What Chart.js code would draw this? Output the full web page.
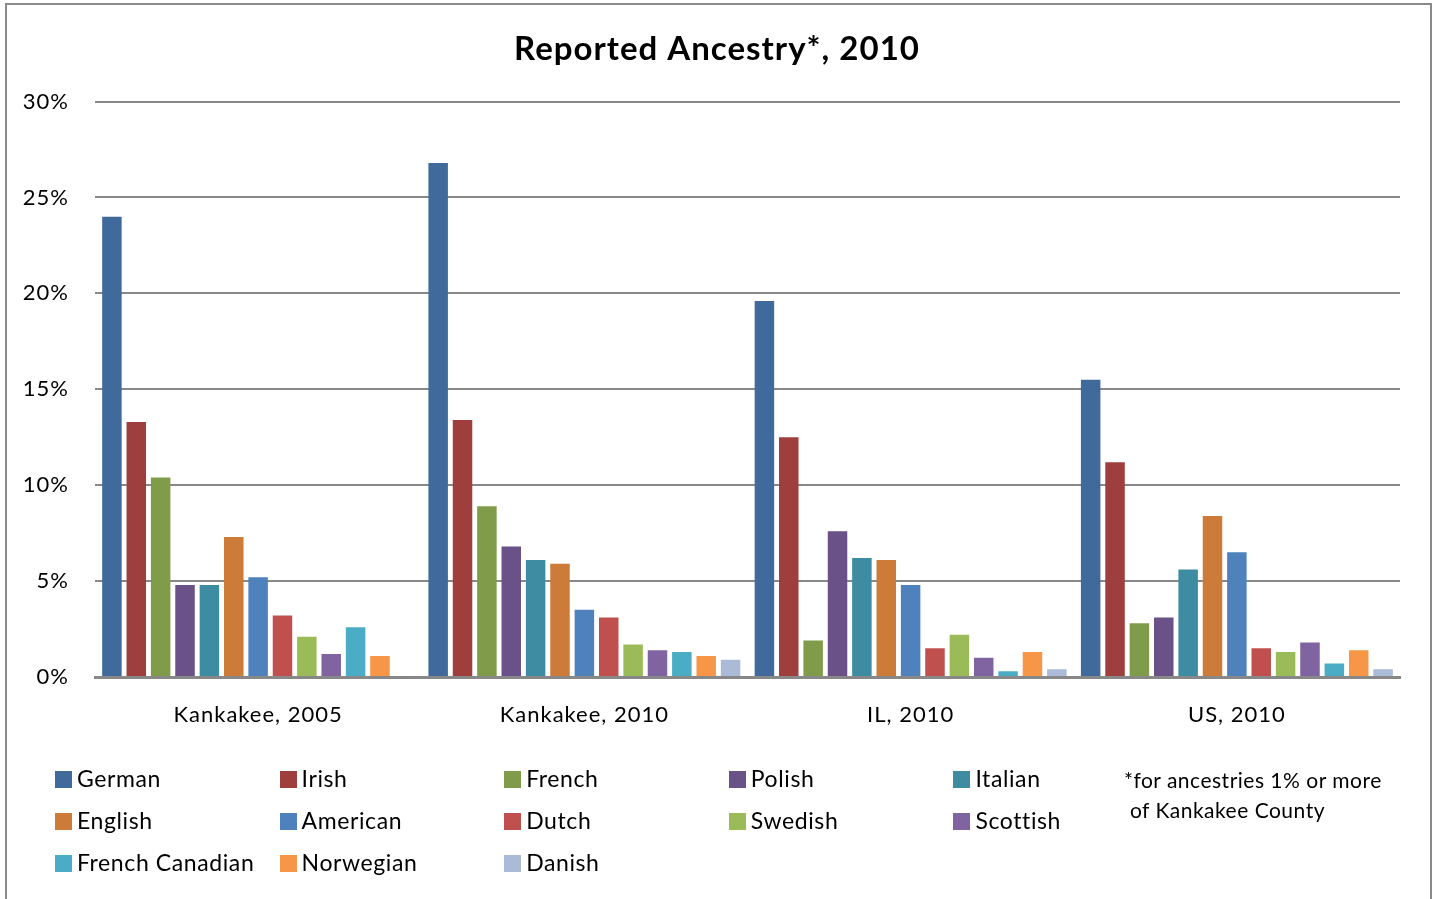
<!DOCTYPE html>
<html>
<head>
<meta charset="utf-8">
<script src="https://cdn.jsdelivr.net/npm/chart.js@4/dist/chart.umd.min.js"></script>
<style>
  html, body { margin: 0; padding: 0; background: #fff; }
  #wrap { position: relative; width: 1434px; height: 899px; overflow: hidden; font-family: Lato, 'Noto Sans', sans-serif; }
  #frame { position: absolute; left: 5px; top: 3px; width: 1423px; height: 920px; border: 2px solid #8a8a8a; }
  #legend { position: absolute; left: 0; top: 0; }
  .item { position: absolute; font-size: 23px; letter-spacing: 0.6px; color: #000; white-space: nowrap; line-height: 24px; }
  .item span.box { display: inline-block; width: 17px; height: 17px; margin-right: 5px; vertical-align: -1px; }
  #note { position: absolute; left: 1124px; top: 765px; font-size: 21px; letter-spacing: 0.5px; line-height: 30px; color: #000; }
</style>
</head>
<body>
<div id="wrap">
  <div id="frame"></div>
  <canvas id="ancestryChart" width="1434" height="899"></canvas>
  <div id="legend"></div>
  <div id="note">*for ancestries 1% or more<br>&nbsp;of Kankakee County</div>
</div>
<script>
// Categories (x axis) and one array per reported ancestry, in percent
const categories = ['Kankakee, 2005', 'Kankakee, 2010', 'IL, 2010', 'US, 2010'];

const german         = [24.0, 26.8, 19.6, 15.5];
const irish          = [13.3, 13.4, 12.5, 11.2];
const french         = [10.4, 8.9, 1.9, 2.8];
const polish         = [4.8, 6.8, 7.6, 3.1];
const italian        = [4.8, 6.1, 6.2, 5.6];
const english        = [7.3, 5.9, 6.1, 8.4];
const american       = [5.2, 3.5, 4.8, 6.5];
const dutch          = [3.2, 3.1, 1.5, 1.5];
const swedish        = [2.1, 1.7, 2.2, 1.3];
const scottish       = [1.2, 1.4, 1.0, 1.8];
const frenchCanadian = [2.6, 1.3, 0.3, 0.7];
const norwegian      = [1.1, 1.1, 1.3, 1.4];
const danish         = [null, 0.9, 0.4, 0.4];

const yTicks = [0, 5, 10, 15, 20, 25, 30];

const series = [
    { label: 'German', data: german, color: '#406a9b' },
    { label: 'Irish', data: irish, color: '#9e3f3d' },
    { label: 'French', data: french, color: '#809b4a' },
    { label: 'Polish', data: polish, color: '#6a5187' },
    { label: 'Italian', data: italian, color: '#3d8ca2' },
    { label: 'English', data: english, color: '#cc7b38' },
    { label: 'American', data: american, color: '#4f81bd' },
    { label: 'Dutch', data: dutch, color: '#c0504d' },
    { label: 'Swedish', data: swedish, color: '#9bbb59' },
    { label: 'Scottish', data: scottish, color: '#8064a2' },
    { label: 'French Canadian', data: frenchCanadian, color: '#4bacc6' },
    { label: 'Norwegian', data: norwegian, color: '#f79646' },
    { label: 'Danish', data: danish, color: '#aabad7' }
];

const FONT = 'Lato, "Noto Sans", sans-serif';

// Excel-style text is a little spaced out, so widen canvas text slightly
const spacing = {
    id: 'spacing',
    beforeUpdate: chart => { chart.ctx.letterSpacing = '1px'; },
    beforeDraw: chart => { chart.ctx.letterSpacing = '1px'; }
};

const ctx = document.getElementById('ancestryChart').getContext('2d');

const ancestryChart = new Chart(ctx, {
    type: 'bar',
    data: {
        labels: categories,
        datasets: series.map(s => ({
            label: s.label,
            data: s.data,
            backgroundColor: s.color,
            borderWidth: 0,
            categoryPercentage: 0.971,
            barPercentage: 0.8
        }))
    },
    options: {
        responsive: false,
        animation: false,
        layout: { padding: 0 },
        plugins: {
            legend: { display: false },
            tooltip: { enabled: false },
            title: {
                display: true,
                text: 'Reported Ancestry*, 2010',
                color: '#000',
                font: { family: FONT, size: 33, weight: 'bold', lineHeight: 1.2 },
                padding: { top: 30, bottom: 32 }
            }
        },
        scales: {
            x: {
                grid: { display: false, drawTicks: false },
                border: { display: true, color: '#888', width: 3 },
                ticks: { color: '#000', padding: 25, font: { family: FONT, size: 22 } },
                afterFit: scale => { scale.height = 222; }
            },
            y: {
                min: 0,
                max: 30,
                afterBuildTicks: scale => { scale.ticks = yTicks.map(v => ({ value: v })); },
                grid: { color: '#888', lineWidth: 2, drawTicks: false },
                border: { display: false },
                ticks: {
                    color: '#000',
                    padding: 26,
                    font: { family: FONT, size: 22 },
                    callback: v => v + '%'
                },
                afterFit: scale => { scale.width = 95; }
            },
            // empty spacer on the right so the title stays centred on the whole canvas
            yRight: {
                position: 'right',
                display: true,
                grid: { display: false, drawTicks: false },
                border: { display: false },
                ticks: { display: false },
                afterFit: scale => { scale.width = 34; }
            }
        }
    },
    plugins: [spacing]
});

// Legend laid out as a 5-column grid under the chart
const legendEl = document.getElementById('legend');
series.forEach((s, i) => {
    const col = i % 5;
    const row = Math.floor(i / 5);
    const item = document.createElement('div');
    item.className = 'item';
    item.style.left = (55 + col * 224.6) + 'px';
    item.style.top = (766 + row * 42) + 'px';
    item.innerHTML = '<span class="box" style="background:' + s.color + '"></span>' + s.label;
    legendEl.appendChild(item);
});
</script>
</body>
</html>
